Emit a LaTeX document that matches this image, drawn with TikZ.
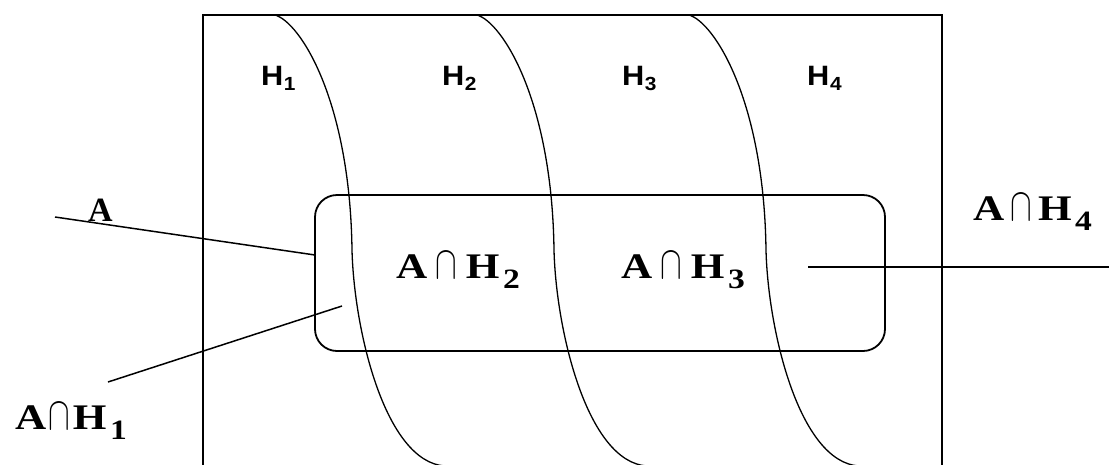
\documentclass[tikz,border=0pt]{standalone}
\usepackage{fontspec}
\setmainfont{Liberation Serif}
\newfontfamily\hfont{Liberation Sans}
\newcommand{\mycap}{\resizebox{18pt}{26pt}{$\cap$}}
\newcommand{\myAH}[2]{\scalebox{1.2}[1]{{\bfseries A}\hspace{#2}\mycap\hspace{#2}{\bfseries H}\hspace{3pt}\raisebox{-10pt}{\fontsize{28}{28}\selectfont\bfseries #1}}}
\newcommand{\myH}[1]{\scalebox{1.1}[1]{\textbf{H}\hspace{0.5pt}\raisebox{-5pt}{\fontsize{19}{19}\selectfont\bfseries #1}}}
\begin{document}
\begin{tikzpicture}[x=1pt,y=-1pt,
  frame/.style={line width=1.8pt,black},
  curveline/.style={line width=1.3pt,black},
  conn/.style={line width=1.5pt,black},
  ahlabel/.style={inner sep=0pt,anchor=base west,font=\fontsize{36}{40}\selectfont},
  hlabel/.style={inner sep=0pt,anchor=base west,font=\hfont\fontsize{28}{30}\selectfont},
  alabel/.style={inner sep=0pt,anchor=base west,font=\fontsize{34}{38}\selectfont\bfseries}]
\useasboundingbox (0,0) rectangle (1109,464);
\clip (0,0) rectangle (1109,464);
% outer frame
\draw[frame] (203,480) -- (203,15) -- (942,15) -- (942,480);
% curves
\foreach \dx in {0,202,414}{
  \begin{scope}[xshift=\dx]
  \draw[curveline] (275,15) .. controls (300,22) and (350,100) .. (352,250)
     .. controls (354,330) and (385,462) .. (445,466);
  \end{scope}
}
% rounded rectangle A
\node[draw,line width=1.8pt,rounded corners=22pt,minimum width=570pt,minimum height=156pt,inner sep=0pt] (setA) at (600,273) {};
% H labels
\node[hlabel] (h1) at (261,85) {\myH{1}};
\node[hlabel] (h2) at (442,85) {\myH{2}};
\node[hlabel] (h3) at (622,85) {\myH{3}};
\node[hlabel] (h4) at (807,85) {\myH{4}};
% intersection labels
\node[ahlabel] (ah2) at (396,278) {\myAH{2}{7pt}};
\node[ahlabel] (ah3) at (621,278) {\myAH{3}{7pt}};
\node[ahlabel] (ah4) at (973,220) {\myAH{4}{5pt}};
\node[ahlabel] (ah1) at (15,429) {\myAH{1}{2pt}};
\node[alabel] (alab) at (88,221) {A};
% connectors
\coordinate (aStart) at (55,217);
\coordinate (aEnd) at (315,255);
\coordinate (h1Start) at (108,382);
\coordinate (h1End) at (342,306);
\coordinate (h4Start) at (808,267);
\coordinate (h4End) at (1109,267);
\draw[conn] (aStart) -- (aEnd);
\draw[conn] (h1Start) -- (h1End);
\draw[conn] (h4Start) -- (h4End);
\end{tikzpicture}
\end{document}
